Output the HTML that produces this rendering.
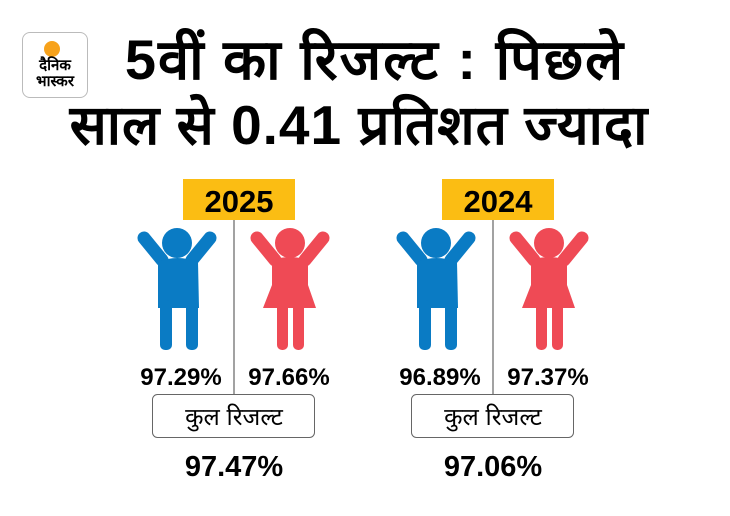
<!DOCTYPE html>
<html><head><meta charset="utf-8"><style>
body{margin:0;width:730px;height:516px;background:#fff;overflow:hidden;position:relative;font-family:"Liberation Sans","Noto Sans CJK SC",sans-serif}
.t{position:absolute;left:0;width:730px;text-align:center;font-weight:bold;color:#000;font-family:"Liberation Sans","WenQuanYi Zen Hei",sans-serif}
</style></head><body>
<div style="position:absolute;left:22px;top:32px;width:64px;height:64px;border:1px solid #bbb;border-radius:8px;"></div>
<div style="position:absolute;left:44px;top:41px;width:16px;height:16px;border-radius:50%;background:#f7a21b"></div>
<div style="position:absolute;left:22px;top:58px;width:66px;text-align:center;font-size:15px;line-height:16px;font-weight:bold">दैनिक<br>भास्कर</div>
<div class="t" style="top:28px;left:10px;font-size:56px;line-height:64px;letter-spacing:2px">5वीं का रिजल्ट : पिछले</div>
<div class="t" style="top:94px;left:-6px;font-size:55px;line-height:62px;letter-spacing:1px">साल से 0.41 प्रतिशत ज्यादा</div>
<svg width="730" height="516" style="position:absolute;left:0;top:0">
<g id="g1">
<rect x="183" y="179" width="112" height="41" fill="#fbbd13"/>
<text x="239" y="212" font-size="31" font-weight="bold" text-anchor="middle" font-family="Liberation Sans">2025</text>
<line x1="234" y1="220" x2="234" y2="394" stroke="#444" stroke-width="1"/>
<g fill="#0a7bc4" stroke="none">
<circle cx="177" cy="243" r="15"/>
<path d="M144 238 L162 260" stroke="#0a7bc4" stroke-width="13" stroke-linecap="round"/>
<path d="M210 238 L192 260" stroke="#0a7bc4" stroke-width="13" stroke-linecap="round"/>
<path d="M158 262 Q177 254 198 262 L199 308 L158 308Z"/>
<rect x="160" y="300" width="12" height="50" rx="5"/>
<rect x="186" y="300" width="12" height="50" rx="5"/>
</g>
<g fill="#ef4a55">
<circle cx="290" cy="243" r="15"/>
<path d="M257 238 L275 260" stroke="#ef4a55" stroke-width="13" stroke-linecap="round"/>
<path d="M323 238 L305 260" stroke="#ef4a55" stroke-width="13" stroke-linecap="round"/>
<path d="M272 260 Q290 254 308 260 L308 285 L316 308 L263 308 L272 285Z"/>
<rect x="277" y="300" width="11" height="50" rx="5"/>
<rect x="293" y="300" width="11" height="50" rx="5"/>
</g>
<text x="181" y="385" font-size="24" font-weight="bold" text-anchor="middle" font-family="Liberation Sans">97.29%</text>
<text x="289" y="385" font-size="24" font-weight="bold" text-anchor="middle" font-family="Liberation Sans">97.66%</text>
<rect x="152.5" y="394.5" width="162" height="43" rx="5" fill="#fff" stroke="#666"/>
<text x="234" y="425" font-size="24" text-anchor="middle" font-family="Liberation Sans, WenQuanYi Zen Hei, sans-serif">कुल रिजल्ट</text>
<text x="234" y="476" font-size="29" font-weight="bold" text-anchor="middle" font-family="Liberation Sans">97.47%</text>
</g>
<g transform="translate(259,0)">
<rect x="183" y="179" width="112" height="41" fill="#fbbd13"/>
<text x="239" y="212" font-size="31" font-weight="bold" text-anchor="middle" font-family="Liberation Sans">2024</text>
<line x1="234" y1="220" x2="234" y2="394" stroke="#444" stroke-width="1"/>
<g fill="#0a7bc4">
<circle cx="177" cy="243" r="15"/>
<path d="M144 238 L162 260" stroke="#0a7bc4" stroke-width="13" stroke-linecap="round"/>
<path d="M210 238 L192 260" stroke="#0a7bc4" stroke-width="13" stroke-linecap="round"/>
<path d="M158 262 Q177 254 198 262 L199 308 L158 308Z"/>
<rect x="160" y="300" width="12" height="50" rx="5"/>
<rect x="186" y="300" width="12" height="50" rx="5"/>
</g>
<g fill="#ef4a55">
<circle cx="290" cy="243" r="15"/>
<path d="M257 238 L275 260" stroke="#ef4a55" stroke-width="13" stroke-linecap="round"/>
<path d="M323 238 L305 260" stroke="#ef4a55" stroke-width="13" stroke-linecap="round"/>
<path d="M272 260 Q290 254 308 260 L308 285 L316 308 L263 308 L272 285Z"/>
<rect x="277" y="300" width="11" height="50" rx="5"/>
<rect x="293" y="300" width="11" height="50" rx="5"/>
</g>
<text x="181" y="385" font-size="24" font-weight="bold" text-anchor="middle" font-family="Liberation Sans">96.89%</text>
<text x="289" y="385" font-size="24" font-weight="bold" text-anchor="middle" font-family="Liberation Sans">97.37%</text>
<rect x="152.5" y="394.5" width="162" height="43" rx="5" fill="#fff" stroke="#666"/>
<text x="234" y="425" font-size="24" text-anchor="middle" font-family="Liberation Sans, WenQuanYi Zen Hei, sans-serif">कुल रिजल्ट</text>
<text x="234" y="476" font-size="29" font-weight="bold" text-anchor="middle" font-family="Liberation Sans">97.06%</text>
</g>
</svg>
</body></html>
